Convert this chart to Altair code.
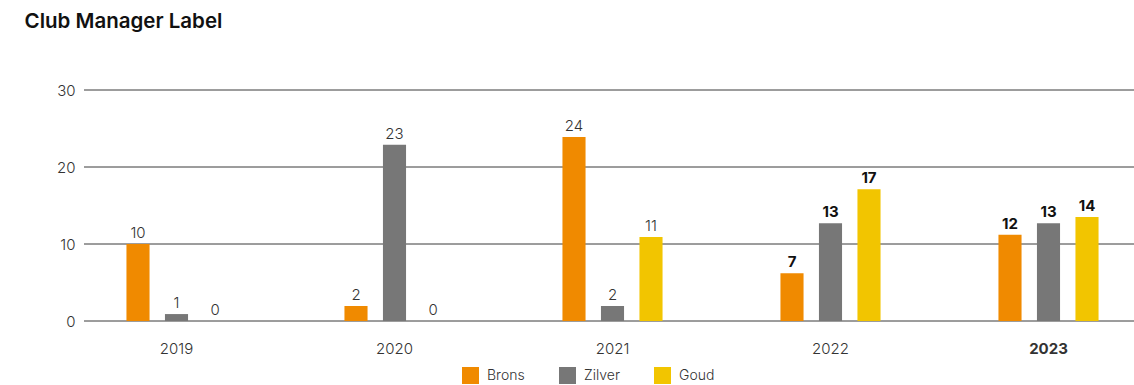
import altair as alt
import pandas as pd

years = ["2019", "2020", "2021", "2022", "2023"]
series = ["Brons", "Zilver", "Goud"]
colors = ["#F08A00", "#777777", "#F2C500"]

brons_vals = [10, 1.95, 23.9, 6.2, 11.2]
zilver_vals = [0.9, 22.9, 1.95, 12.7, 12.7]
goud_vals = [0, 0, 10.9, 17.1, 13.5]

brons_lbl = ["10", "2", "24", "7", "12"]
zilver_lbl = ["1", "23", "2", "13", "13"]
goud_lbl = ["0", "0", "11", "17", "14"]

y_ticks = [0, 10, 20, 30]
bold_years = ["2022", "2023"]

rows = []
for s, vals, lbls in zip(series, [brons_vals, zilver_vals, goud_vals], [brons_lbl, zilver_lbl, goud_lbl]):
    for y, v, l in zip(years, vals, lbls):
        rows.append({"year": y, "series": s, "value": v, "label": l,
                     "bold": y in bold_years})
df = pd.DataFrame(rows)
grid_df = pd.DataFrame({"value": y_ticks})

FONT = "Inter"
W, H = 1050, 231

x_enc = alt.X("year:N", sort=years,
              scale=alt.Scale(range=[-16.5, 1073.5], paddingInner=0, paddingOuter=0),
              axis=alt.Axis(title=None, labelAngle=0, ticks=False, domain=False, grid=False,
                            labelPadding=20, labelFontSize=15, labelColor="#333333",
                            labelFont=FONT,
                            labelFontWeight={"condition": {"test": "datum.value == '2023'", "value": "bold"}, "value": 300}))
xo_enc = alt.XOffset("series:N", sort=series,
                     scale=alt.Scale(range=[58.95, 159.05], paddingInner=0.4, paddingOuter=0))
y_enc = alt.Y("value:Q", scale=alt.Scale(domain=[0, 30]),
              axis=alt.Axis(title=None, values=y_ticks, ticks=False, domain=False,
                            grid=False,
                            labelPadding=9, labelFontSize=15, labelColor="#333333",
                            labelFont=FONT, labelFontWeight=300))

grid = alt.Chart(grid_df).mark_rule(color="#3a3a3a", strokeWidth=1).encode(
    y=y_enc, x=alt.value(0), x2=alt.value(W)
)

base = alt.Chart(df)

bars = base.mark_bar().encode(
    x=x_enc, xOffset=xo_enc, y=y_enc,
    color=alt.Color("series:N", sort=series,
                    scale=alt.Scale(domain=series, range=colors),
                    legend=alt.Legend(title=None, orient="none", direction="horizontal",
                                      legendX=378, legendY=277, symbolType="square",
                                      symbolSize=289, symbolStrokeWidth=0,
                                      labelFontSize=14, labelFont=FONT, labelColor="#333333",
                                      labelFontWeight=300,
                                      labelOffset=8, columnPadding=34)),
)

txt_norm = base.transform_filter("!datum.bold").mark_text(
    baseline="bottom", dy=-3, fontSize=15, font=FONT, fontWeight=300, color="#333333"
).encode(x=x_enc, xOffset=xo_enc, y=y_enc, text="label:N")

txt_bold = base.transform_filter("datum.bold").mark_text(
    baseline="bottom", dy=-3, fontSize=15, font=FONT, fontWeight=700, color="#111111"
).encode(x=x_enc, xOffset=xo_enc, y=y_enc, text="label:N")

chart = alt.layer(grid, bars, txt_norm, txt_bold).properties(
    width=W, height=H,
    autosize=alt.AutoSizeParams(type="none"),
    padding={"left": 84, "top": 90, "right": 0, "bottom": 64},
    title=alt.TitleParams("Club Manager Label", anchor="start", dx=-32, offset=51,
                          fontSize=20.5, font=FONT, fontWeight=600, color="#111111"),
).configure_view(stroke=None)

chart.save("out.html", embed_options={"renderer": "svg", "actions": False})
